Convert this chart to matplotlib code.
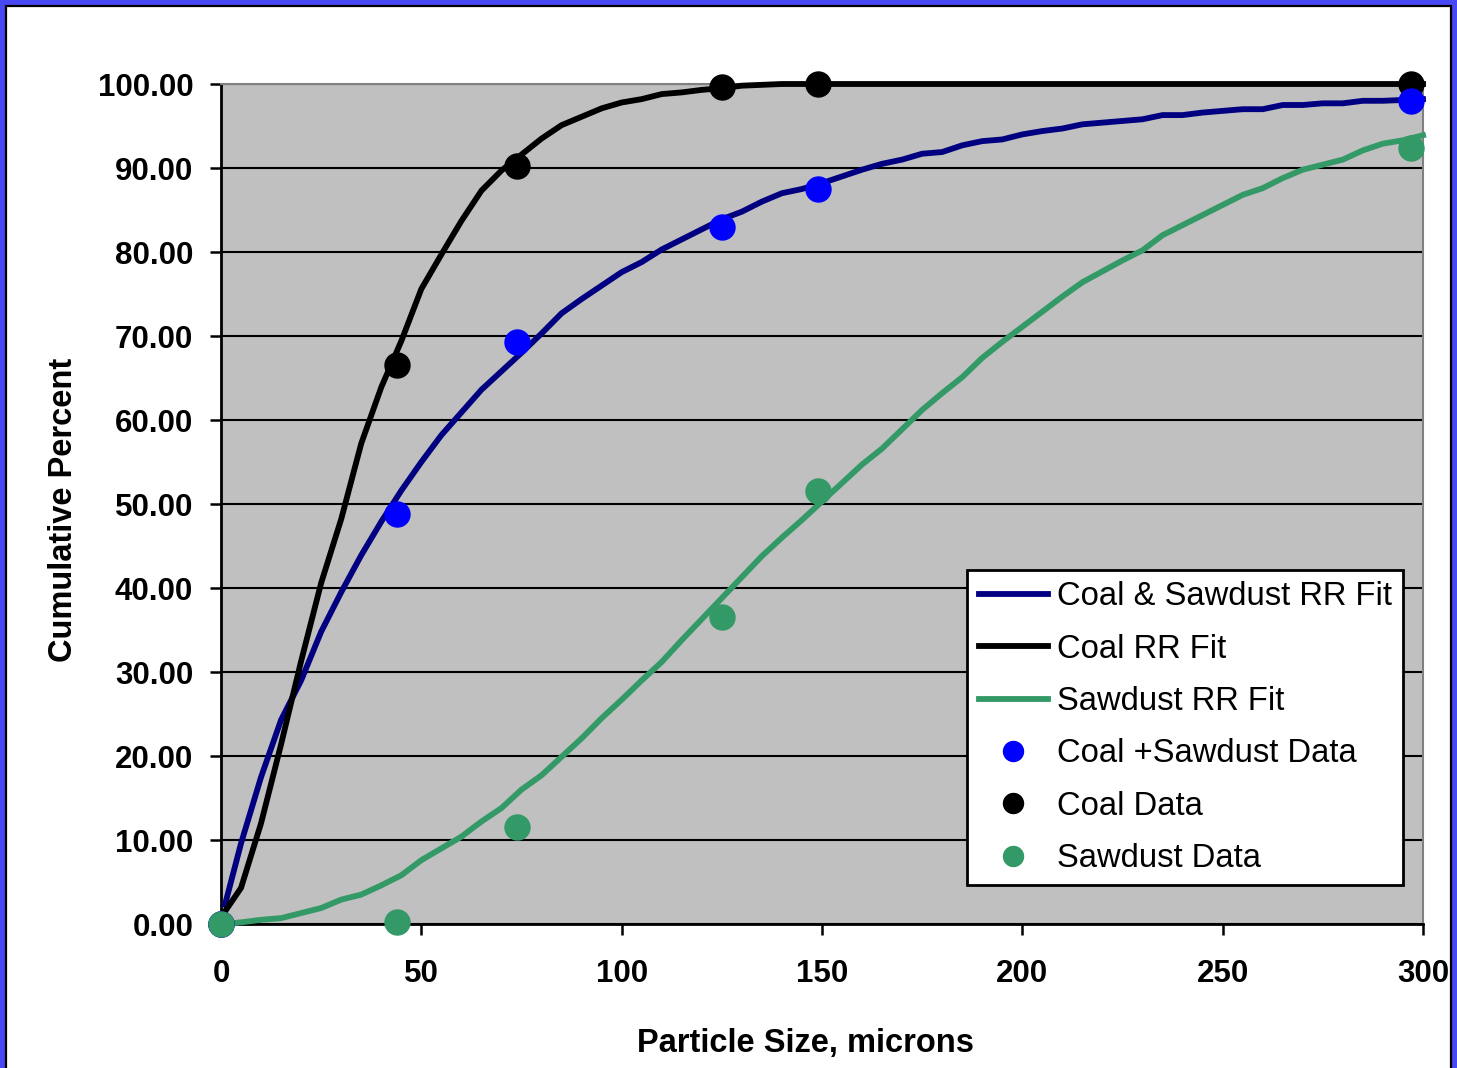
import matplotlib.pyplot as plt
from matplotlib.patches import Rectangle
from matplotlib.ticker import FormatStrFormatter, MultipleLocator

plt.rcParams['font.family'] = ['Liberation Sans', 'DejaVu Sans']

# sieve openings, microns
sieve_size = [0, 44, 74, 125, 149, 297]
blend_data = [0.0, 48.8, 69.3, 83.0, 87.5, 98.0]
coal_data = [0.0, 66.5, 90.2, 99.6, 100.0, 100.0]
sawdust_data = [0.0, 0.2, 11.6, 36.5, 51.6, 92.4]

# Rosin-Rammler fit curves, evaluated every 5 microns
fit_size = [1] + list(range(5, 305, 5))
blend_fit = [2.3, 9.6, 17.5, 24.3, 29.0, 34.8, 39.5, 43.9, 47.9, 51.6, 55.0,
             58.2, 60.9, 63.6, 65.8, 68.0, 70.3, 72.7, 74.4, 76.0, 77.6,
             78.8, 80.3, 81.5, 82.7, 83.9, 84.8, 86.0, 87.0, 87.5, 88.2,
             89.0, 89.8, 90.5, 91.0, 91.7, 91.9, 92.7, 93.2, 93.4, 94.0,
             94.4, 94.7, 95.2, 95.4, 95.6, 95.8, 96.3, 96.3, 96.6, 96.8,
             97.0, 97.0, 97.5, 97.5, 97.7, 97.7, 98.0, 98.0, 98.1, 98.2]
coal_fit = [1.5, 4.3, 12.0, 21.4, 31.3, 40.6, 48.2, 57.2, 63.9, 69.4, 75.6,
            79.7, 83.7, 87.3, 89.7, 91.6, 93.5, 95.1, 96.1, 97.1, 97.8,
            98.2, 98.8, 99.0, 99.3, 99.5, 99.8, 99.9] + [100.0] * 33
sawdust_fit = [0.0, 0.2, 0.5, 0.7, 1.3, 1.9, 2.9, 3.5, 4.6, 5.8, 7.6,
               9.0, 10.4, 12.2, 13.8, 16.0, 17.7, 19.9, 22.1, 24.5, 26.7,
               29.0, 31.2, 33.8, 36.3, 38.8, 41.3, 43.8, 46.0, 48.1, 50.3,
               52.5, 54.7, 56.6, 58.9, 61.2, 63.2, 65.1, 67.4, 69.3, 71.1,
               72.9, 74.7, 76.4, 77.7, 79.0, 80.2, 82.0, 83.2, 84.4, 85.6,
               86.8, 87.6, 88.8, 89.8, 90.4, 91.0, 92.1, 92.9, 93.3, 93.9]

fig = plt.figure(figsize=(14.57, 10.68), dpi=100)

# slide-style frame: blue border with a thin black rule inside
fig.add_artist(Rectangle((0, 0), 1, 1, transform=fig.transFigure,
                         facecolor='#4848f4', edgecolor='none', zorder=-10))
fig.add_artist(Rectangle((6 / 1457, -0.01), 1445 / 1457, 1 - 6 / 1068 + 0.01,
                         transform=fig.transFigure, facecolor='white',
                         edgecolor='black', linewidth=1.6, zorder=-9))

ax = fig.add_axes([221 / 1457, 144 / 1068, 1202 / 1457, 840 / 1068])
ax.set_facecolor('#c0c0c0')

ax.plot(fit_size, blend_fit, color='#000080', lw=4.2,
        label='Coal & Sawdust RR Fit', clip_on=False, zorder=3)
ax.plot(fit_size, coal_fit, color='black', lw=4.2,
        label='Coal RR Fit', clip_on=False, zorder=3)
ax.plot(fit_size, sawdust_fit, color='#339966', lw=4.2,
        label='Sawdust RR Fit', clip_on=False, zorder=3)
ax.plot(sieve_size, coal_data, 'o', color='black', ms=18,
        label='Coal Data', clip_on=False, zorder=4)
ax.plot(sieve_size, blend_data, 'o', color='#0000ff', ms=18,
        label='Coal +Sawdust Data', clip_on=False, zorder=4)
ax.plot(sieve_size, sawdust_data, 'o', color='#339966', ms=18,
        label='Sawdust Data', clip_on=False, zorder=4)

ax.set_xlim(0, 300)
ax.set_ylim(0, 100)
ax.xaxis.set_major_locator(MultipleLocator(50))
ax.yaxis.set_major_locator(MultipleLocator(10))
ax.yaxis.set_major_formatter(FormatStrFormatter('%.2f'))
ax.yaxis.grid(True, color='black', lw=1.5)
ax.set_axisbelow(True)

for side in ['left', 'bottom']:
    ax.spines[side].set_color('black')
    ax.spines[side].set_linewidth(2)
for side in ['top', 'right']:
    ax.spines[side].set_color('#808080')
    ax.spines[side].set_linewidth(1.5)

ax.tick_params(direction='out', length=8, width=1.8, labelsize=22.5)
ax.tick_params(axis='y', pad=12)
ax.tick_params(axis='x', pad=17)
for lbl in ax.get_xticklabels() + ax.get_yticklabels():
    lbl.set_fontweight('bold')

ax.set_xlabel('Particle Size, microns', fontsize=23.5, fontweight='bold')
ax.set_ylabel('Cumulative Percent', fontsize=23.5, fontweight='bold')
ax.xaxis.set_label_coords(0.486, -0.124)
ax.yaxis.set_label_coords(-0.118, 0.493)

handles, labels = ax.get_legend_handles_labels()
order = [0, 1, 2, 4, 3, 5]
leg = ax.legend([handles[i] for i in order], [labels[i] for i in order],
                loc='upper right', bbox_to_anchor=(1403 / 1457, 1 - 570 / 1068),
                bbox_transform=fig.transFigure, borderaxespad=0,
                fontsize=23.6, fancybox=False, framealpha=1, edgecolor='black',
                markerscale=0.8, handlelength=2.13, handletextpad=0.25,
                labelspacing=0.65, borderpad=0.35)
leg.get_frame().set_linewidth(2)

fig.savefig('out.png', dpi=100)
